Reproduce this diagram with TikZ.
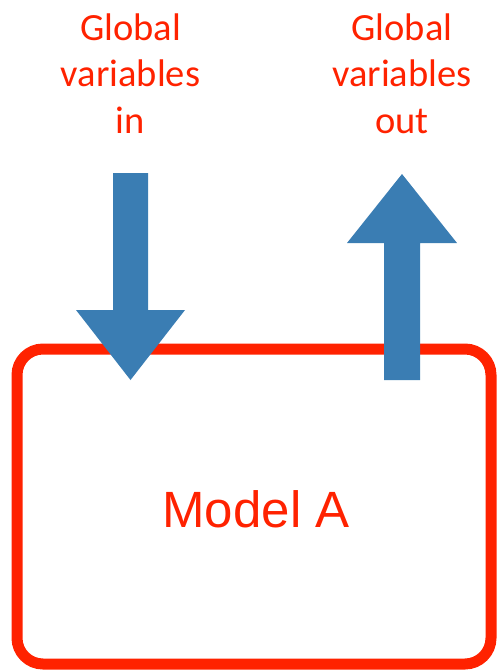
\documentclass[tikz,border=0pt]{standalone}
\usepackage{fontspec}
\setmainfont{Liberation Sans}
\newfontfamily\labelfont{Carlito}
\definecolor{boxred}{HTML}{FF2200}
\definecolor{flowblue}{HTML}{3A7DB3}
\begin{document}
\begin{tikzpicture}[x=1pt,y=-1pt,
  modelbox/.style={draw=boxred,line width=11pt,rounded corners=26pt},
  flowarrow/.style={fill=flowblue,draw=none},
  varlabel/.style={text=boxred,align=center,inner sep=0pt,anchor=base,
    font=\labelfont\fontsize{38.5}{46.5}\selectfont},
  modellabel/.style={text=boxred,inner sep=0pt,anchor=base,
    font=\fontsize{51}{60}\selectfont}]
  \useasboundingbox (0,0) rectangle (496,670);

  % model outline
  \draw[modelbox] (17,349) rectangle (491,664);
  \node[modellabel] (model) at (256,527) {Model A};

  % inbound arrow
  \fill[flowarrow] (113,173) -- (148,173) -- (148,310) -- (185,310)
    -- (130.5,380) -- (76,310) -- (113,310) -- cycle;
  % outbound arrow
  \fill[flowarrow] (384,380) -- (420,380) -- (420,243) -- (457,243)
    -- (402,174) -- (347,243) -- (384,243) -- cycle;

  % labels (anchored on the baseline of their last line)
  \node[varlabel] (in) at (130.5,133) {Global\\variables\\in};
  \node[varlabel] (out) at (402,133) {Global\\variables\\out};
\end{tikzpicture}
\end{document}
